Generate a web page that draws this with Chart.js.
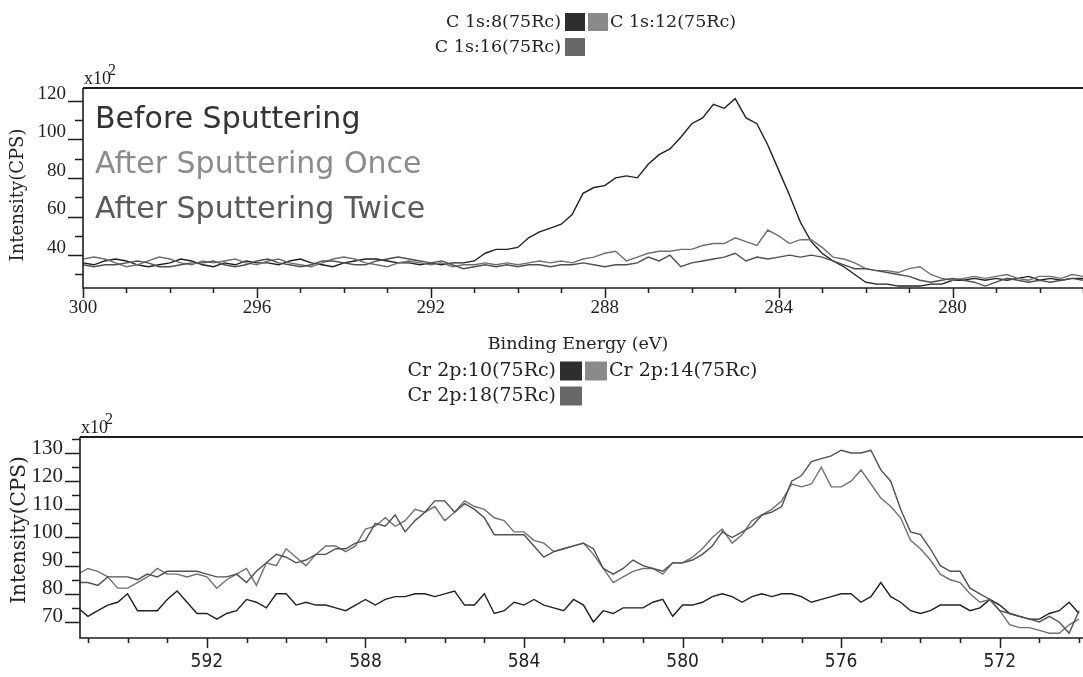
<!DOCTYPE html>
<html>
<head>
<meta charset="utf-8">
<script src="https://cdn.jsdelivr.net/npm/chart.js@4.4.1/dist/chart.umd.min.js"></script>
<style>
  html, body { margin: 0; padding: 0; background: #fff; overflow: hidden; width: 1083px; height: 677px; }
  canvas { position: absolute; left: 0; }
  #c1s { top: 0; width: 1083px; height: 355px; }
  #cr2p { top: 355px; width: 1083px; height: 322px; }
</style>
</head>
<body>
<canvas id="c1s" width="1083" height="355"></canvas>
<canvas id="cr2p" width="1083" height="322"></canvas>
<script>
// ---------- C 1s region (binding energy, eV) ----------
const c1sEnergy = [
  300, 299.75, 299.5, 299.25,  299, 298.75, 298.5, 298.25,  298, 297.75, 297.5, 297.25,
  297, 296.75, 296.5, 296.25,  296, 295.75, 295.5, 295.25,  295, 294.75, 294.5, 294.25,
  294, 293.75, 293.5, 293.25,  293, 292.75, 292.5, 292.25,  292, 291.75, 291.5, 291.25,
  291, 290.75, 290.5, 290.25,  290, 289.75, 289.5, 289.25,  289, 288.75, 288.5, 288.25,
  288, 287.75, 287.5, 287.25,  287, 286.75, 286.5, 286.25,  286, 285.75, 285.5, 285.25,
  285, 284.75, 284.5, 284.25,  284, 283.75, 283.5, 283.25,  283, 282.75, 282.5, 282.25,
  282, 281.75, 281.5, 281.25,  281, 280.75, 280.5, 280.25,  280, 279.75, 279.5, 279.25,
  279, 278.75, 278.5, 278.25,  278, 277.75, 277.5, 277.25,  277
];
// intensities in units of x10^2 CPS
const c1sBefore = [
  36, 35, 37, 38,  37, 35, 34, 35,  36, 38, 37, 35,
  34, 36, 35, 37,  36, 36, 35, 37,  38, 36, 35, 34,
  36, 37, 38, 38,  37, 36, 36, 35,  36, 35, 36, 36,
  37, 41, 43, 43,  44, 49, 52, 54,  56, 61, 72, 75,
  76, 80, 81, 80,  87, 92, 95, 101,  108, 111, 118, 116,
  121, 111, 108, 97,  84, 71, 57, 47,  41, 37, 34, 30,
  26, 25, 25, 24,  24, 24, 25, 25,  27, 27, 28, 27,
  28, 27, 28, 29,  27, 28, 27, 28,  28
];
const c1sOnce = [
  38, 39, 38, 36,  34, 35, 37, 39,  38, 36, 35, 37,
  36, 37, 38, 36,  35, 37, 38, 36,  35, 34, 36, 38,
  39, 38, 36, 35,  34, 36, 37, 36,  35, 36, 34, 35,
  35, 36, 35, 36,  35, 36, 37, 36,  37, 36, 38, 39,
  41, 42, 37, 39,  41, 42, 42, 43,  43, 45, 46, 46,
  49, 47, 45, 53,  50, 46, 48, 48,  44, 39, 38, 36,
  33, 32, 32, 31,  33, 34, 30, 28,  27, 28, 29, 28,
  29, 30, 28, 27,  29, 29, 28, 30,  29
];
const c1sTwice = [
  35, 34, 35, 35,  36, 37, 36, 34,  34, 35, 36, 36,
  37, 35, 34, 35,  37, 38, 36, 35,  34, 35, 37, 37,
  36, 35, 35, 37,  38, 39, 38, 37,  36, 37, 35, 33,
  34, 35, 34, 35,  34, 35, 35, 34,  35, 35, 36, 35,
  34, 35, 35, 36,  39, 37, 40, 34,  36, 37, 38, 39,
  41, 37, 39, 38,  39, 40, 39, 40,  39, 37, 35, 33,
  33, 32, 31, 30,  29, 27, 26, 27,  28, 27, 26, 24,
  26, 28, 27, 26,  27, 26, 27, 28,  27
];
const c1sXTicks = [300, 296, 292, 288, 284, 280];
const c1sYTicks = [40, 60, 80, 100, 120];
const c1sLegend = ['C 1s:8(75Rc)', 'C 1s:12(75Rc)', 'C 1s:16(75Rc)'];

// ---------- Cr 2p region (binding energy, eV) ----------
const cr2pEnergy = [
  595.25,
  595, 594.75, 594.5, 594.25,  594, 593.75, 593.5, 593.25,  593, 592.75, 592.5, 592.25,
  592, 591.75, 591.5, 591.25,  591, 590.75, 590.5, 590.25,  590, 589.75, 589.5, 589.25,
  589, 588.75, 588.5, 588.25,  588, 587.75, 587.5, 587.25,  587, 586.75, 586.5, 586.25,
  586, 585.75, 585.5, 585.25,  585, 584.75, 584.5, 584.25,  584, 583.75, 583.5, 583.25,
  583, 582.75, 582.5, 582.25,  582, 581.75, 581.5, 581.25,  581, 580.75, 580.5, 580.25,
  580, 579.75, 579.5, 579.25,  579, 578.75, 578.5, 578.25,  578, 577.75, 577.5, 577.25,
  577, 576.75, 576.5, 576.25,  576, 575.75, 575.5, 575.25,  575, 574.75, 574.5, 574.25,
  574, 573.75, 573.5, 573.25,  573, 572.75, 572.5, 572.25,  572, 571.75, 571.5, 571.25,
  571, 570.75, 570.5, 570.25,  570
];
const cr2pBefore = [
  75,
  72, 74, 76, 77,  80, 74, 74, 74,  78, 81, 77, 73,
  73, 71, 73, 74,  78, 77, 75, 80,  80, 76, 77, 76,
  76, 75, 74, 76,  78, 76, 78, 79,  79, 80, 80, 79,
  80, 81, 76, 76,  80, 73, 74, 77,  76, 78, 76, 75,
  74, 78, 76, 70,  74, 73, 75, 75,  75, 77, 78, 72,
  76, 76, 77, 79,  80, 79, 77, 79,  80, 79, 80, 80,
  79, 77, 78, 79,  80, 80, 77, 79,  84, 79, 77, 74,
  73, 74, 76, 76,  76, 74, 75, 78,  76, 73, 72, 71,
  71, 73, 74, 77,  73
];
const cr2pOnce = [
  87,
  89, 88, 86, 82,  82, 84, 86, 89,  87, 87, 86, 87,
  86, 82, 85, 87,  89, 83, 91, 90,  96, 93, 90, 94,
  97, 97, 95, 97,  103, 104, 107, 104,  106, 110, 109, 111,
  106, 109, 113, 111,  110, 107, 106, 102,  102, 99, 98, 95,
  96, 97, 98, 94,  89, 84, 86, 88,  89, 89, 87, 91,
  91, 93, 96, 100,  103, 98, 101, 106,  108, 110, 113, 119,
  118, 119, 125, 118,  118, 120, 124, 119,  114, 111, 107, 99,
  96, 92, 87, 85,  84, 80, 77, 78,  74, 69, 68, 68,
  67, 66, 66, 69,  71
];
const cr2pTwice = [
  84,
  84, 83, 86, 86,  86, 85, 87, 86,  88, 88, 88, 88,
  87, 86, 86, 87,  84, 88, 91, 94,  93, 91, 92, 94,
  94, 96, 96, 98,  99, 105, 104, 108,  102, 106, 109, 113,
  113, 109, 112, 110,  107, 101, 101, 101,  101, 97, 93, 95,
  96, 97, 98, 96,  89, 87, 89, 92,  90, 89, 88, 91,
  91, 92, 94, 97,  102, 100, 102, 104,  108, 109, 111, 120,
  122, 127, 128, 129,  131, 130, 130, 131,  124, 120, 110, 102,
  101, 96, 90, 88,  88, 82, 80, 78,  74, 73, 72, 71,
  70, 72, 70, 66,  74
];
const cr2pXTicks = [592, 588, 584, 580, 576, 572];
const cr2pYTicks = [70, 80, 90, 100, 110, 120, 130];
const cr2pLegend = ['Cr 2p:10(75Rc)', 'Cr 2p:14(75Rc)', 'Cr 2p:18(75Rc)'];

const sputterLabels = ['Before Sputtering', 'After Sputtering Once', 'After Sputtering Twice'];
const axisTitleX = 'Binding Energy (eV)';
const axisTitleY = 'Intensity(CPS)';

// series colours: before / once / twice
const lineColors = ['#202020', '#707070', '#505050'];
const swatchColors = ['#2e2e2e', '#8a8a8a', '#686868'];
const labelColors = ['#333333', '#8c8c8c', '#5a5a5a'];

function points(xs, ys) {
  return xs.map((e, i) => ({ x: e, y: ys[i] }));
}

// Frame, tick marks, legend swatches and captions drawn on top of the chart
const decor = {
  id: 'decor',
  afterDraw(chart, args, o) {
    const { ctx, chartArea: ca, scales } = chart;
    const xs = scales.x, ys = scales.y;
    ctx.save();
    ctx.strokeStyle = '#1c1c1c';
    ctx.lineCap = 'butt';

    // axes frame: left, bottom, top
    ctx.lineWidth = 1.6;
    ctx.beginPath();
    ctx.moveTo(ca.left, ca.top);
    ctx.lineTo(ca.left, ca.bottom);
    ctx.lineTo(chart.width, ca.bottom);
    ctx.stroke();
    ctx.lineWidth = 2.2;
    ctx.beginPath();
    ctx.moveTo(ca.left, ca.top);
    ctx.lineTo(chart.width, ca.top);
    ctx.stroke();

    // x tick marks (major + 1 eV minor)
    ctx.lineWidth = 1.5;
    for (let e = Math.ceil(xs.min); e <= Math.floor(xs.max); e++) {
      const px = Math.round(xs.getPixelForValue(e)) + 0.5;
      const len = o.xMajor.includes(e) ? 10 : 5;
      ctx.beginPath();
      ctx.moveTo(px, ca.bottom);
      ctx.lineTo(px, ca.bottom + len);
      ctx.stroke();
    }
    // y tick marks
    const step = o.yMinorStep;
    for (let v = Math.ceil((ys.min + 2) / step) * step; v <= ys.max; v += step) {
      const py = Math.round(ys.getPixelForValue(v)) + 0.5;
      const len = o.yMajor.includes(v) ? 15 : 8;
      ctx.beginPath();
      ctx.moveTo(ca.left - len, py);
      ctx.lineTo(ca.left, py);
      ctx.stroke();
    }

    ctx.fillStyle = '#222';
    // x10^2 multiplier
    ctx.textAlign = 'left';
    ctx.textBaseline = 'alphabetic';
    ctx.font = o.expFont;
    ctx.fillText('x10', ca.left + 1, ca.top - 4);
    const w = ctx.measureText('x10').width;
    ctx.font = o.expSupFont;
    ctx.fillText('2', ca.left + 1 + w - 3, ca.top - 13);

    // legend (two rows)
    const L = o.legend;
    ctx.font = L.font;
    ctx.textBaseline = 'middle';
    ctx.textAlign = 'right';
    ctx.fillText(L.labels[0], L.x - 4, L.y1);
    ctx.fillText(L.labels[2], L.x - 4, L.y2);
    ctx.textAlign = 'left';
    ctx.fillText(L.labels[1], L.x + 2 * L.sw + 5, L.y1);
    ctx.fillStyle = swatchColors[0];
    ctx.fillRect(L.x, L.y1 - L.sh / 2, L.sw, L.sh);
    ctx.fillStyle = swatchColors[1];
    ctx.fillRect(L.x + L.sw + 3, L.y1 - L.sh / 2, L.sw, L.sh);
    ctx.fillStyle = swatchColors[2];
    ctx.fillRect(L.x, L.y2 - L.sh / 2, L.sw, L.sh);

    // y axis title
    ctx.fillStyle = '#222';
    ctx.save();
    ctx.translate(o.yTitle.x, o.yTitle.y);
    ctx.rotate(-Math.PI / 2);
    ctx.font = o.yTitle.font;
    ctx.textAlign = 'center';
    ctx.textBaseline = 'middle';
    ctx.fillText(axisTitleY, 0, 0);
    ctx.restore();

    // x axis title
    if (o.xTitle) {
      ctx.font = o.xTitle.font;
      ctx.textAlign = 'center';
      ctx.textBaseline = 'middle';
      ctx.fillText(axisTitleX, o.xTitle.x, o.xTitle.y);
    }

    // in-plot captions
    if (o.captions) {
      ctx.font = o.captions.font;
      ctx.textAlign = 'left';
      ctx.textBaseline = 'alphabetic';
      sputterLabels.forEach((t, i) => {
        ctx.fillStyle = labelColors[i];
        ctx.fillText(t, ca.left + o.captions.dx, o.captions.baselines[i]);
      });
    }
    ctx.restore();
  }
};

function makeChart(id, cfg) {
  return new Chart(document.getElementById(id), {
    type: 'line',
    data: {
      datasets: cfg.series.map((s, i) => ({
        label: cfg.legend[i],
        data: points(cfg.energy, s),
        borderColor: lineColors[i],
        borderWidth: 1.4,
        pointRadius: 0,
        tension: 0,
        fill: false
      })).reverse()
    },
    options: {
      responsive: false,
      animation: false,
      devicePixelRatio: 1,
      layout: { padding: { top: cfg.top, left: 0, right: 0, bottom: 0 } },
      plugins: {
        legend: { display: false },
        tooltip: { enabled: false },
        decor: cfg.decor
      },
      scales: {
        x: {
          type: 'linear',
          reverse: true,
          min: cfg.xMin,
          max: cfg.xMax,
          grid: { display: false, drawTicks: false },
          border: { display: false },
          afterBuildTicks: (s) => { s.ticks = cfg.xTicks.map(v => ({ value: v })); },
          afterFit: (s) => { s.height = cfg.xHeight; },
          ticks: {
            padding: cfg.xPad,
            maxRotation: 0,
            color: '#222',
            font: cfg.xFont
          }
        },
        y: {
          type: 'linear',
          min: cfg.yMin,
          max: cfg.yMax,
          grid: { display: false, drawTicks: false },
          border: { display: false },
          afterBuildTicks: (s) => { s.ticks = cfg.yTicks.map(v => ({ value: v })); },
          afterFit: (s) => { s.width = cfg.yWidth; },
          ticks: {
            padding: 17,
            labelOffset: cfg.yLabelOffset,
            color: '#222',
            font: cfg.yFont
          }
        }
      }
    },
    plugins: [decor]
  });
}

makeChart('c1s', {
  energy: c1sEnergy,
  series: [c1sBefore, c1sOnce, c1sTwice],
  legend: c1sLegend,
  top: 88, xHeight: 67, yWidth: 83,
  xMin: 277, xMax: 300, yMin: 23, yMax: 126.5,
  xTicks: c1sXTicks, yTicks: c1sYTicks,
  xPad: 9, yLabelOffset: -7,
  xFont: { family: 'Liberation Serif', size: 19 },
  yFont: { family: 'Liberation Serif', size: 19 },
  decor: {
    xMajor: c1sXTicks, yMajor: c1sYTicks, yMinorStep: 10,
    expFont: '18px "Liberation Serif"', expSupFont: '16px "Liberation Serif"',
    legend: { labels: c1sLegend, font: '17.5px "DejaVu Serif"', x: 565, y1: 22, y2: 47, sw: 20, sh: 18 },
    yTitle: { x: 18, y: 195, font: '18px "DejaVu Serif"' },
    xTitle: { x: 578, y: 344, font: '17.5px "DejaVu Serif"' },
    captions: { font: '30px "DejaVu Sans"', dx: 12, baselines: [128, 173, 218] }
  }
});

makeChart('cr2p', {
  energy: cr2pEnergy,
  series: [cr2pBefore, cr2pOnce, cr2pTwice],
  legend: cr2pLegend,
  top: 82, xHeight: 39, yWidth: 80,
  xMin: 569.9, xMax: 595.2, yMin: 64.3, yMax: 135.7,
  xTicks: cr2pXTicks, yTicks: cr2pYTicks,
  xPad: 13, yLabelOffset: -5,
  xFont: { family: "'DejaVu Sans Condensed', 'Liberation Sans Narrow', 'Liberation Sans'", size: 19 },
  yFont: { family: 'Liberation Serif', size: 21 },
  decor: {
    xMajor: cr2pXTicks, yMajor: cr2pYTicks, yMinorStep: 5,
    expFont: '18px "Liberation Serif"', expSupFont: '16px "Liberation Serif"',
    legend: { labels: cr2pLegend, font: '19px "DejaVu Serif"', x: 560, y1: 16, y2: 41, sw: 22, sh: 19 },
    yTitle: { x: 20, y: 175, font: '20px "DejaVu Serif"' }
  }
});
</script>
</body>
</html>
